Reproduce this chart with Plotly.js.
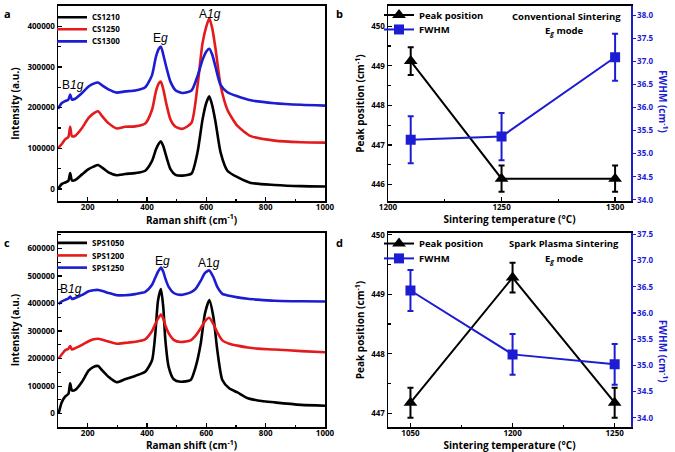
<!DOCTYPE html>
<html><head><meta charset="utf-8">
<script src="https://cdn.plot.ly/plotly-3.0.1.min.js"></script>
<style>html,body{margin:0;padding:0;background:#fff}#chart{width:675px;height:452px}</style>
</head><body><div id="chart"></div>
<script>
// ---- Panel a: conventional sintering Raman spectra ----
const shiftA = [100,112,124,135,141,147,158,181,203,220,235,250,270,298,326,360,394,417,430,440,447,455,465,479,496,520,550,570,587,600,610,620,631,648,671,705,750,830,920,1000];
const cs1210 = [0,12000,16000,20000,39000,21000,22000,36000,49000,55000,59000,52000,41000,34000,37000,39000,45000,69000,97000,112000,117000,105000,80000,49000,35000,33000,38000,89000,170000,212000,228000,205000,165000,90000,45000,29000,15000,10000,7000,6000];
const cs1250 = [100000,110000,122000,128000,153000,130000,131000,150000,175000,186000,191000,178000,162000,149000,153000,154000,161000,195000,240000,260000,264000,245000,210000,171000,153000,148000,163000,252000,358000,400000,420000,395000,345000,255000,195000,155000,130000,119000,115000,114000];
const cs1300 = [197000,211000,216000,220000,232000,220000,222000,236000,252000,259000,262000,254000,245000,237000,240000,242000,250000,280000,325000,345000,350000,330000,300000,264000,243000,236000,242000,277000,317000,338000,345000,330000,300000,256000,238000,228000,218000,211000,207000,205000];

// ---- Panel c: spark plasma sintering Raman spectra ----
const shiftC = [102,112,124,135,141,147,158,181,203,220,235,250,270,298,326,360,394,417,428,437,447,455,462,473,490,513,547,564,581,595,610,624,637,654,677,705,740,773,830,920,1000];
const sps1050 = [0,40000,62000,72000,110000,84000,86000,116000,156000,170000,173000,156000,134000,114000,125000,137000,152000,194000,290000,410000,452000,385000,266000,170000,125000,116000,122000,170000,254000,362000,412000,350000,230000,122000,92000,77000,56000,48000,41000,32000,29000];
const sps1200 = [200000,214000,230000,236000,245000,233000,238000,250000,263000,270000,272000,268000,262000,254000,257000,261000,270000,300000,325000,345000,360000,345000,320000,292000,268000,260000,266000,283000,310000,335000,348000,325000,295000,266000,254000,247000,240000,236000,233000,227000,223000];
const sps1250 = [398000,407000,413000,418000,425000,416000,420000,431000,444000,448000,449000,445000,438000,430000,430000,434000,442000,468000,494000,515000,530000,515000,490000,460000,438000,431000,440000,453000,482000,510000,520000,495000,460000,435000,428000,422000,417000,414000,410000,408000,407000];

// ---- Panel b: conventional sintering, Eg mode ----
const tempB = [1210,1250,1300];
const peakB = [449.12,446.15,446.15];
const peakErrB = [0.35,0.33,0.33];
const fwhmB = [35.30,35.37,37.09];
const fwhmErrB = [0.51,0.51,0.51];

// ---- Panel d: spark plasma sintering, Eg mode ----
const tempD = ['1050','1200','1250'];
const peakD = [447.18,449.28,447.18];
const peakErrD = [0.25,0.25,0.25];
const fwhmD = [36.43,35.21,35.02];
const fwhmErrD = [0.39,0.39,0.39];

const BLACK = '#000000', RED = '#e41a1c', BLUE = '#1c1cd2';
const FONT = 'Open Sans';
const idxD = tempD.map((_, i) => i);
const PH = 446; // plot-area height (452 minus bottom margin)
const py = (ypx) => (PH - ypx) / PH;
const px = (xpx) => xpx / 675;

function spec(x, y, color, name, xa, ya, lg) {
  return {type:'scatter', mode:'lines', x:x, y:y, name:name, xaxis:xa, yaxis:ya, legend:lg,
          line:{color:color, width:2.6, shape:'spline', smoothing:0.6}};
}
const traces = [
  spec(shiftA, cs1210, BLACK, 'CS1210', 'x', 'y', 'legend'),
  spec(shiftA, cs1250, RED, 'CS1250', 'x', 'y', 'legend2'),
  spec(shiftA, cs1300, BLUE, 'CS1300', 'x', 'y', 'legend3'),
  {type:'scatter', mode:'lines+markers', x:tempB, y:peakB, name:'Peak position', xaxis:'x2', yaxis:'y2', legend:'legend4',
   line:{color:BLACK, width:2}, marker:{symbol:'triangle-up', size:12, color:BLACK},
   error_y:{type:'data', array:peakErrB, color:BLACK, thickness:2, width:3}},
  {type:'scatter', mode:'lines+markers', x:tempB, y:fwhmB, name:'FWHM', xaxis:'x2', yaxis:'y3', legend:'legend5',
   line:{color:BLUE, width:2}, marker:{symbol:'square', size:10, color:BLUE},
   error_y:{type:'data', array:fwhmErrB, color:BLUE, thickness:2, width:3}},
  spec(shiftC, sps1050, BLACK, 'SPS1050', 'x3', 'y4', 'legend6'),
  spec(shiftC, sps1200, RED, 'SPS1200', 'x3', 'y4', 'legend7'),
  spec(shiftC, sps1250, BLUE, 'SPS1250', 'x3', 'y4', 'legend8'),
  {type:'scatter', mode:'lines+markers', x:idxD, y:peakD, name:'Peak position', xaxis:'x4', yaxis:'y5', legend:'legend9',
   line:{color:BLACK, width:2}, marker:{symbol:'triangle-up', size:12, color:BLACK},
   error_y:{type:'data', array:peakErrD, color:BLACK, thickness:2, width:3}},
  {type:'scatter', mode:'lines+markers', x:idxD, y:fwhmD, name:'FWHM', xaxis:'x4', yaxis:'y6', legend:'legend10',
   line:{color:BLUE, width:2}, marker:{symbol:'square', size:10, color:BLUE},
   error_y:{type:'data', array:fwhmErrD, color:BLUE, thickness:2, width:3}}
];

const XA = [px(58), px(325)], XB = [px(388), px(631)];
const YT = [py(199), py(2)], YB = [py(427), py(231)];
const tickF = {family:FONT, size:8, color:BLACK, weight:700};
const titleF = {family:FONT, size:10, color:BLACK, weight:700};

function ax(extra) {
  return Object.assign({showline:true, linecolor:BLACK, linewidth:1.5, mirror:true, showgrid:false, zeroline:false,
    ticks:'inside', ticklen:4, tickwidth:1.2, tickcolor:BLACK, tickfont:tickF}, extra);
}
function lg(xp, yp, size) {
  return {x:px(xp), y:py(yp), xanchor:'left', yanchor:'middle', bgcolor:'rgba(0,0,0,0)', borderwidth:0,
          font:{family:FONT, size:size, color:BLACK, weight:700}, tracegroupgap:0};
}
function note(xp, yp, text, size, color, extra) {
  return Object.assign({xref:'paper', yref:'paper', x:px(xp), y:py(yp), text:text, showarrow:false,
    xanchor:'center', yanchor:'middle', font:{family:FONT, size:size, color:color, weight:700}}, extra || {});
}
function peakLabel(xa, ya, x, y, text) {
  return {xref:xa, yref:ya, x:x, y:y, text:text, showarrow:false, xanchor:'center', yanchor:'middle',
          font:{family:'Liberation Sans', size:12, color:BLACK}};
}
const minorX = (d) => ({dtick:d, ticks:'inside', ticklen:2.5, tickcolor:BLACK});

const layout = {
  width:675, height:452, margin:{l:0, r:0, t:0, b:6}, paper_bgcolor:'#fff', plot_bgcolor:'#fff',
  font:{family:FONT}, showlegend:true,
  xaxis: ax({domain:XA, anchor:'y', range:[100,1000], dtick:200, tick0:0, minor:minorX(100), ticklabelstandoff:-2,
    title:{text:'Raman shift (cm<sup>-1</sup>)', font:titleF, standoff:1}}),
  yaxis: ax({domain:YT, anchor:'x', range:[-30000,450000], dtick:100000, tickformat:'d', minor:minorX(50000),
    title:{text:'Intensity (a.u.)', font:titleF, standoff:6}}),
  xaxis2: ax({domain:XB, anchor:'y2', range:[1200,1307], dtick:50, tick0:1200, minor:minorX(25), ticklabelstandoff:-2,
    title:{text:'Sintering temperature (°C)', font:titleF, standoff:1}}),
  yaxis2: ax({domain:YT, anchor:'x2', mirror:false, range:[445.58,450.51], dtick:1, minor:minorX(0.5),
    title:{text:'Peak position (cm<sup>-1</sup>)', font:titleF, standoff:4}}),
  yaxis3: ax({overlaying:'y2', anchor:'x2', side:'right', range:[33.97,38.2], dtick:0.5, tickformat:'.1f', mirror:false,
    linecolor:BLUE, tickcolor:BLUE, ticks:'outside', ticklen:3, tickfont:Object.assign({}, tickF, {color:BLUE})}),
  xaxis3: ax({domain:XA, anchor:'y4', range:[100,1000], dtick:200, tick0:0, minor:minorX(100), ticklabelstandoff:-2,
    title:{text:'Raman shift (cm<sup>-1</sup>)', font:titleF, standoff:3}}),
  yaxis4: ax({domain:YB, anchor:'x3', range:[-49000,656000], dtick:100000, tickformat:'d', minor:minorX(50000),
    title:{text:'Intensity (a.u.)', font:titleF, standoff:6}}),
  xaxis4: ax({domain:XB, anchor:'y5', range:[-0.22,2.16], tickmode:'array', tickvals:idxD, ticktext:tempD, ticklabelstandoff:-2,
    minor:{tickmode:'array', tickvals:[0.5,1.5], ticks:'inside', ticklen:2.5, tickcolor:BLACK},
    title:{text:'Sintering temperature (°C)', font:titleF, standoff:3}}),
  yaxis5: ax({domain:YB, anchor:'x4', mirror:false, range:[446.77,450.03], dtick:1, minor:minorX(0.5),
    title:{text:'Peak position (cm<sup>-1</sup>)', font:titleF, standoff:4}}),
  yaxis6: ax({overlaying:'y5', anchor:'x4', side:'right', range:[33.82,37.53], dtick:0.5, tickformat:'.1f', mirror:false,
    linecolor:BLUE, tickcolor:BLUE, ticks:'outside', ticklen:3, tickfont:Object.assign({}, tickF, {color:BLUE})}),
  legend: lg(52, 13.3, 8), legend2: lg(52, 25.5, 8), legend3: lg(52, 37.7, 8),
  legend6: lg(52, 241, 8), legend7: lg(52, 253.7, 8), legend8: lg(52, 266, 8),
  legend4: lg(379, 11, 9.5), legend5: lg(379, 25.7, 9.5),
  legend9: lg(379, 241.7, 9.5), legend10: lg(379, 256.7, 9.5),
  annotations: [
    note(7, 10, 'a', 11, BLACK),
    note(340, 10, 'b', 11, BLACK),
    note(7, 241, 'c', 11, BLACK),
    note(340, 241, 'd', 11, BLACK),
    peakLabel('x', 'y', 152, 255000, 'B<i>1g</i>'),
    peakLabel('x', 'y', 446, 372000, 'E<i>g</i>'),
    peakLabel('x', 'y', 611, 431000, 'A<i>1g</i>'),
    peakLabel('x3', 'y4', 145, 451000, 'B<i>1g</i>'),
    peakLabel('x3', 'y4', 453, 555000, 'E<i>g</i>'),
    peakLabel('x3', 'y4', 609, 548000, 'A1<i>g</i>'),
    note(566, 12.3, 'Conventional Sintering', 9.5, BLACK),
    note(564, 27, 'E<sub><i>g</i></sub> mode', 9.5, BLACK),
    note(564, 241.7, 'Spark Plasma Sintering', 9.5, BLACK),
    note(564, 257, 'E<sub><i>g</i></sub> mode', 9.5, BLACK),
    note(663, 98, 'FWHM (cm<sup>-1</sup>)', 10, BLUE, {textangle:90}),
    note(663, 350, 'FWHM (cm<sup>-1</sup>)', 10, BLUE, {textangle:90})
  ]
};

Plotly.newPlot('chart', traces, layout, {staticPlot:true, displayModeBar:false});
</script></body></html>
